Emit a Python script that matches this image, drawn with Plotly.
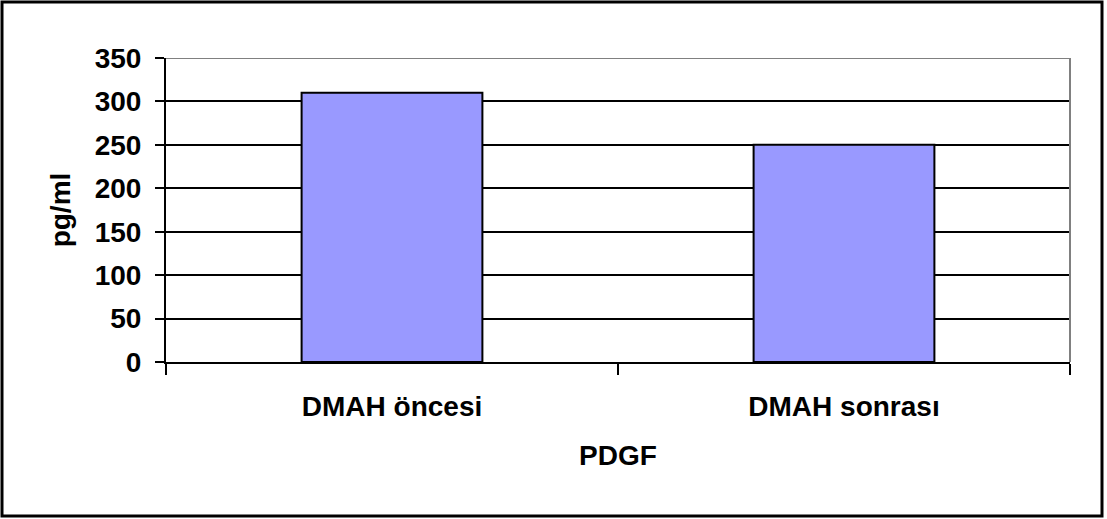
import plotly.graph_objects as go

# PDGF levels before and after DMAH
categories = ["DMAH öncesi", "DMAH sonrası"]
values = [310, 250]
y_ticks = [0, 50, 100, 150, 200, 250, 300, 350]

FONT = dict(family="Arial, Liberation Sans, sans-serif", size=28, color="black", weight=700)

fig = go.Figure(
    go.Bar(
        x=categories,
        y=values,
        width=0.4,
        marker=dict(color="#9999FF", line=dict(color="black", width=2)),
    )
)

W, H = 1107, 519
L, R, T, B = 166, 37, 58, 157
pw, ph = W - L - R, H - T - B

fig.update_layout(
    width=W,
    height=H,
    margin=dict(l=L, r=R, t=T, b=B, pad=0),
    paper_bgcolor="white",
    plot_bgcolor="white",
    showlegend=False,
    font=FONT,
    xaxis=dict(
        type="category",
        range=[-0.5, 1.5],
        showline=True,
        linecolor="black",
        linewidth=2,
        ticks="outside",
        tickson="boundaries",
        ticklen=11,
        tickwidth=2,
        tickcolor="black",
        ticklabelstandoff=18,
        showgrid=False,
        tickfont=FONT,
        title=dict(text="PDGF", font=FONT, standoff=25),
        automargin=False,
    ),
    yaxis=dict(
        range=[0, 350],
        tickvals=y_ticks,
        showline=True,
        linecolor="black",
        linewidth=2,
        ticks="outside",
        ticklen=9,
        tickwidth=2,
        tickcolor="black",
        ticklabelstandoff=8,
        showgrid=True,
        gridcolor="black",
        gridwidth=2,
        zeroline=False,
        tickfont=FONT,
        title=dict(text="pg/ml", font=FONT, standoff=16),
        automargin=False,
    ),
    shapes=[
        # gray plot-area edges at top and right
        dict(type="line", xref="paper", yref="y", x0=0, x1=1, y0=350, y1=350,
             line=dict(color="#808080", width=2), layer="above"),
        dict(type="line", xref="paper", yref="paper", x0=1, x1=1, y0=0, y1=1,
             line=dict(color="#808080", width=2), layer="above"),
        # outer chart frame
        dict(type="rect", xref="paper", yref="paper",
             x0=(2 - L) / pw, x1=(W - 5 - L) / pw,
             y0=-(H - T - ph - 3) / ph,
             y1=(T - 2) / ph + 1,
             line=dict(color="black", width=3), fillcolor="rgba(0,0,0,0)"),
    ],
)

fig.write_html("out.html")
